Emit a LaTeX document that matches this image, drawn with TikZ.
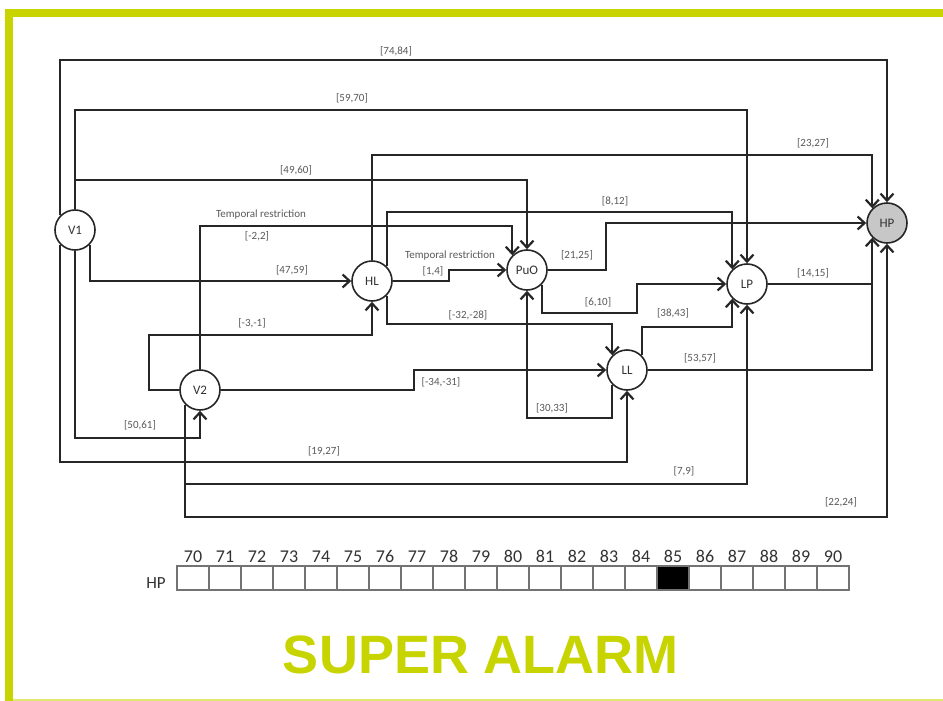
\documentclass[tikz,border=0pt]{standalone}
\usepackage{fontspec}
\setmainfont{Carlito}
\newfontfamily\titlefont{Liberation Sans}
\usetikzlibrary{arrows.meta,calc}
\definecolor{lime}{RGB}{200,212,0}
\begin{document}
\begin{tikzpicture}[x=1pt,y=-1pt,
  vnode/.style={circle,draw=black!85,line width=1.6pt,minimum size=40pt,inner sep=0pt,fill=white,font=\fontsize{13}{15}\selectfont,text=black!80},
  conn/.style={line width=2.2pt,draw=black!85,-{Straight Barb[length=7pt,width=13pt]}},
  plainc/.style={line width=2.2pt,draw=black!85},
  lbl/.style={font=\fontsize{11}{13}\selectfont,text=black!65,inner sep=0pt},
  cell/.style={draw=black!55,line width=1.3pt,minimum width=32pt,minimum height=24pt,inner sep=0pt},
  num/.style={font=\fontsize{18}{20}\selectfont,text=black!80,inner sep=0pt,anchor=base},
]
\useasboundingbox (0,0) rectangle (943,701);
\fill[white] (0,0) rectangle (943,701);
% frame
\fill[lime] (5,9) rectangle (943,17);
\fill[lime] (5,9) rectangle (13,701);
\draw[lime!55,line width=1.5pt] (13,700) -- (943,700);

% nodes
\node[vnode] (V1) at (75,230) {V1};
\node[vnode] (V2) at (200,390) {V2};
\node[vnode] (HL) at (372,281) {HL};
\node[vnode] (PuO) at (527,270) {PuO};
\node[vnode] (LL) at (627,370) {LL};
\node[vnode] (LP) at (747,284) {LP};
\node[vnode,fill=black!22] (HP) at (887,223) {HP};

% connectors
\draw[conn] (V1.135) -- (V1.135 |- 0,60) -| (HP.north);
\draw[conn] (V1.north) -- (V1.north |- 0,110) -| (LP.north);
\draw[conn] (V1.north) -- (V1.north |- 0,180) -| (PuO.north);
\draw[conn] (V1.-45) |- (HL.west);
\draw[conn] (V1.225) -- (V1.225 |- 0,462) -| (LL.south);
\draw[conn] (V1.south) -- (V1.south |- 0,438) -| (V2.south);
\draw[conn] (V2.north) -- (V2.north |- 0,226) -| (PuO.135);
\draw[conn] (V2.west) -- ++(-30,0) -- ++(0,-55) -| (HL.south);
\draw[conn] (V2.east) -- ++(193,0) |- (LL.west);
\draw[conn] (V2.225) -- (V2.225 |- 0,484) -| (LP.south);
\draw[conn] (V2.225) -- (V2.225 |- 0,517) -| (HP.south);
\draw[conn] (HL.north) -- (HL.north |- 0,155) -| (HP.135);
\draw[conn] (HL.45) -- (HL.45 |- 0,212) -| (LP.135);
\draw[conn] (HL.east) -- ++(56,0) |- (PuO.west);
\draw[conn] (HL.-45) -- (HL.-45 |- 0,324) -| (LL.135);
\draw[conn] (PuO.east) -- ++(58,0) |- (HP.west);
\draw[conn] (PuO.-45) -- (PuO.-45 |- 0,313) -- (637,313) |- (LP.west);
\draw[conn] (LL.-135) -- (LL.-135 |- 0,418) -| (PuO.south);
\draw[conn] (LL.45) -- (LL.45 |- 0,327) -| (LP.225);
\draw[conn] (LL.east) -| (HP.225);
\draw[plainc] (LP.east) -- (HP.225 |- LP.east);

% labels
\node[lbl] (l1) at (396,51) {[74,84]};
\node[lbl] (l2) at (352,98) {[59,70]};
\node[lbl] (l3) at (296,170) {[49,60]};
\node[lbl] (l4) at (261,215) {Temporal restriction};
\node[lbl] (l5) at (257,236) {[-2,2]};
\node[lbl] (l6) at (292,270) {[47,59]};
\node[lbl] (l7) at (252,323) {[-3,-1]};
\node[lbl] (l8) at (441,382) {[-34,-31]};
\node[lbl] (l9) at (140,425) {[50,61]};
\node[lbl] (l10) at (324,451) {[19,27]};
\node[lbl] (l11) at (684,471) {[7,9]};
\node[lbl] (l12) at (841,502) {[22,24]};
\node[lbl] (l13) at (813,143) {[23,27]};
\node[lbl] (l14) at (615,201) {[8,12]};
\node[lbl] (l15) at (450,256) {Temporal restriction};
\node[lbl] (l16) at (433,271) {[1,4]};
\node[lbl] (l17) at (468,315) {[-32,-28]};
\node[lbl] (l18) at (577,255) {[21,25]};
\node[lbl] (l19) at (598,302) {[6,10]};
\node[lbl] (l20) at (552,408) {[30,33]};
\node[lbl] (l21) at (673,313) {[38,43]};
\node[lbl] (l22) at (700,358) {[53,57]};
\node[lbl] (l23) at (813,273) {[14,15]};

% timeline
\foreach \i in {0,...,20}{
  \pgfmathtruncatemacro\n{70+\i}
  \node[cell] (c\i) at (193+32*\i,578) {};
  \node[num] (n\i) at (193+32*\i,562) {\n};
}
\node[cell,fill=black] (c15b) at (c15) {};
\node[font=\fontsize{17}{20}\selectfont,text=black!80,anchor=base,inner sep=0pt] (hpl) at (156,588) {HP};

% title
\node[anchor=base,text=lime,inner sep=0pt,font=\titlefont\bfseries\fontsize{54}{60}\selectfont] (title) at (481,673) {SUPER ALARM};
\end{tikzpicture}
\end{document}
